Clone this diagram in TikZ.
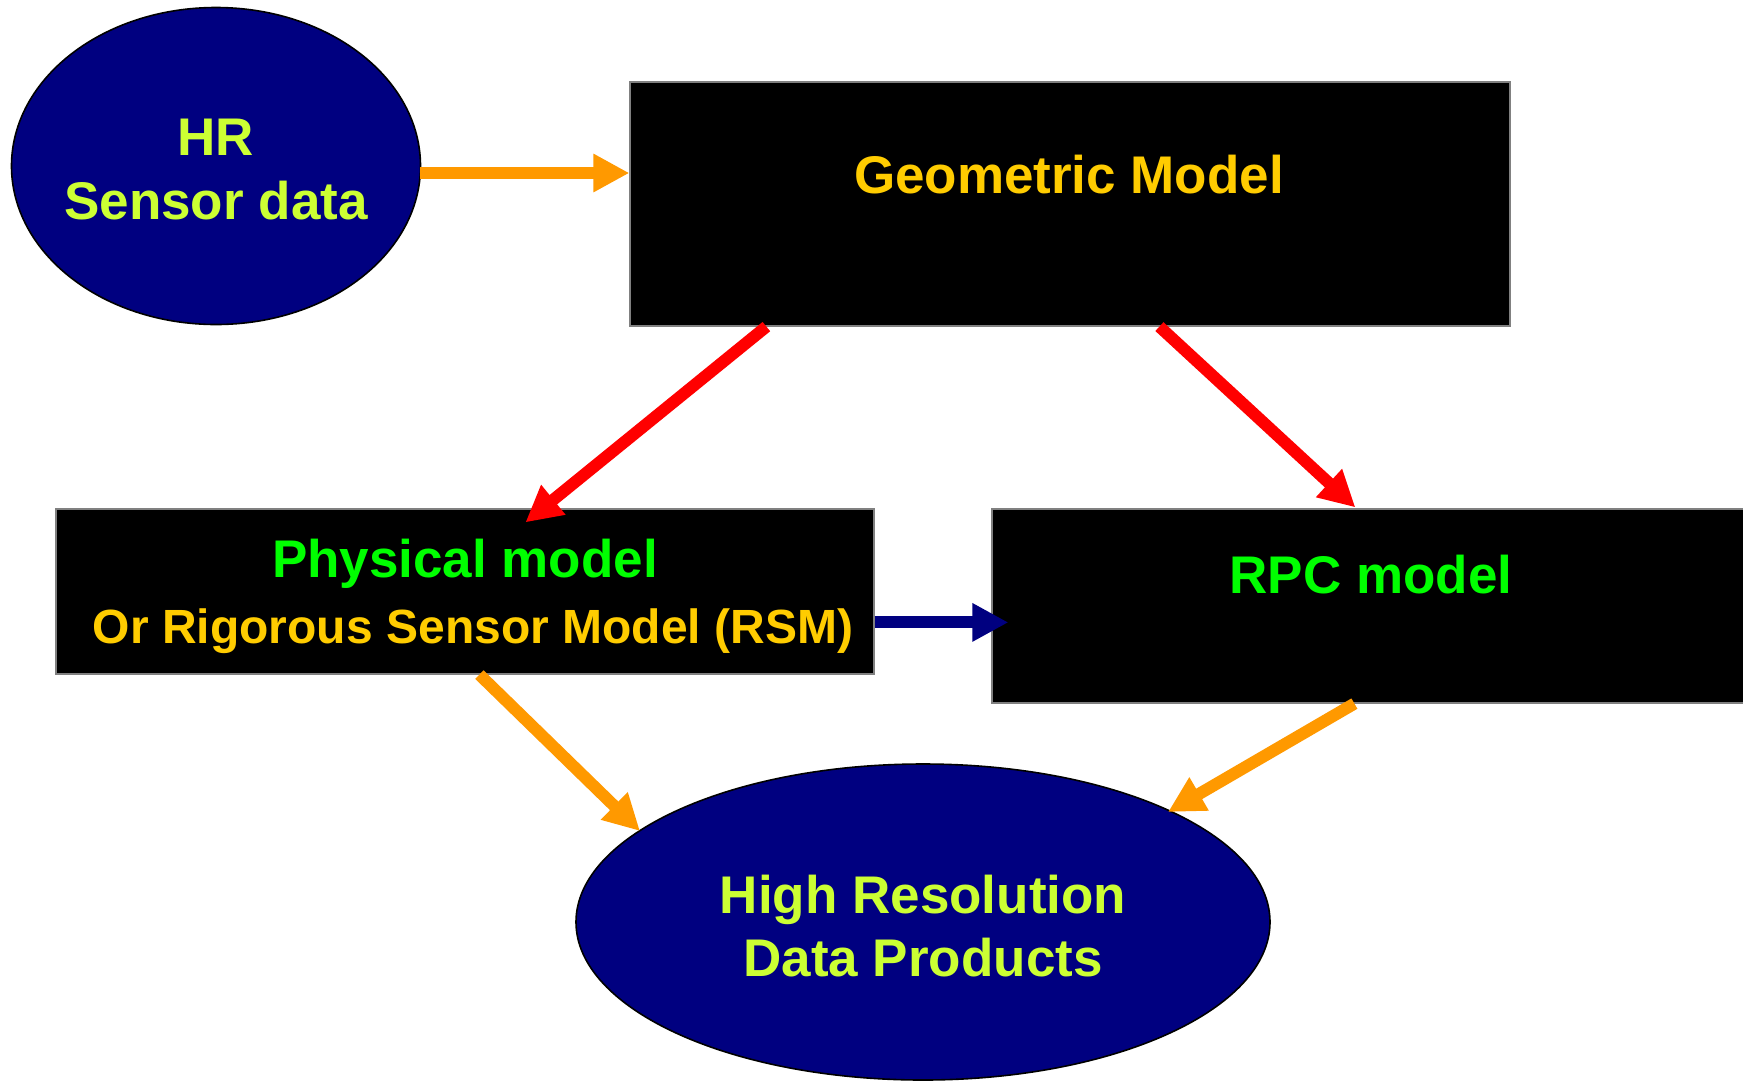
\documentclass[tikz,border=0pt]{standalone}
\usepackage{fontspec}
\setmainfont{Liberation Sans}
\usetikzlibrary{arrows.meta,shapes.geometric,calc}

\definecolor{navyfill}{HTML}{000080}
\definecolor{goldtext}{HTML}{FFCC00}
\definecolor{greentext}{HTML}{00FF00}
\definecolor{limetext}{HTML}{CCFF33}
\definecolor{orangearrow}{HTML}{FF9900}
\definecolor{redarrow}{HTML}{FF0000}
\definecolor{edgegray}{HTML}{808080}

\tikzset{
  blackbox/.style={rectangle, fill=black, draw=edgegray, line width=1.2pt, inner sep=0pt},
  bluebubble/.style={ellipse, fill=navyfill, draw=black, line width=1.6pt, inner sep=0pt},
  caption/.style={anchor=base, inner sep=0pt, font=\fontsize{53pt}{64pt}\selectfont\bfseries},
  subcaption/.style={anchor=base, inner sep=0pt, font=\fontsize{48pt}{58pt}\selectfont\bfseries},
  flow/.style={line width=12pt, -{Triangle[length=36pt,width=36pt]}},
}

\begin{document}
\begin{tikzpicture}[x=1pt,y=-1pt]
\useasboundingbox[fill=white] (0,0) rectangle (1743,1080);

% shapes
\node[bluebubble, minimum width=409pt, minimum height=317pt] (hr) at (216,166) {};
\node[blackbox, minimum width=880pt, minimum height=244pt] (geo) at (1070,204) {};
\node[blackbox, minimum width=818pt, minimum height=165pt] (phys) at (465,591.5) {};
\node[blackbox, minimum width=760pt, minimum height=194pt] (rpc) at (1372,606) {};
\node[bluebubble, minimum width=694pt, minimum height=316pt] (prod) at (923,922) {};

% labels
\node[caption, text=limetext] (hrA) at (216,155) {HR};
\node[caption, text=limetext] (hrB) at (216,219) {Sensor data};
\node[caption, text=goldtext] (geoT) at (1069,193) {Geometric Model};
\node[caption, text=greentext] (physT) at (465,577) {Physical model};
\node[subcaption, text=goldtext] (rsmT) at (473,643) {Or Rigorous Sensor Model (RSM)};
\node[caption, text=greentext] (rpcT) at (1371,593) {RPC model};
\node[caption, text=limetext] (prodA) at (923,913) {High Resolution};
\node[caption, text=limetext] (prodB) at (923,976) {Data Products};

% connector end points
\coordinate (hrOut) at ($(hr.center)+(204,7)$);
\coordinate (geoOutL) at ($(geo.south west)+(137,0)$);
\coordinate (geoOutR) at ($(geo.south west)+(530,0)$);
\coordinate (physIn) at ($(phys.north west)+(470,14)$);
\coordinate (rpcIn) at ($(rpc.north west)+(364,-1)$);
\coordinate (physOutR) at ($(phys.north east)+(0,114)$);
\coordinate (rpcInL) at ($(rpc.west |- physOutR)+(17,0)$);
\coordinate (physOutB) at ($(phys.south west)+(424,0)$);
\coordinate (rpcOutB) at ($(rpc.south west)+(363,0)$);
\coordinate (prodInL) at (640,831);
\coordinate (prodInR) at (1168,812);

% connectors
\draw[flow, orangearrow] (hrOut) -- (hrOut -| geo.west);
\draw[flow, redarrow] (geoOutL) -- (physIn);
\draw[flow, redarrow] (geoOutR) -- (rpcIn);
\draw[flow, navyfill] (physOutR) -- (rpcInL);
\draw[flow, orangearrow] (physOutB) -- (prodInL);
\draw[flow, orangearrow] (rpcOutB) -- (prodInR);
\end{tikzpicture}
\end{document}
